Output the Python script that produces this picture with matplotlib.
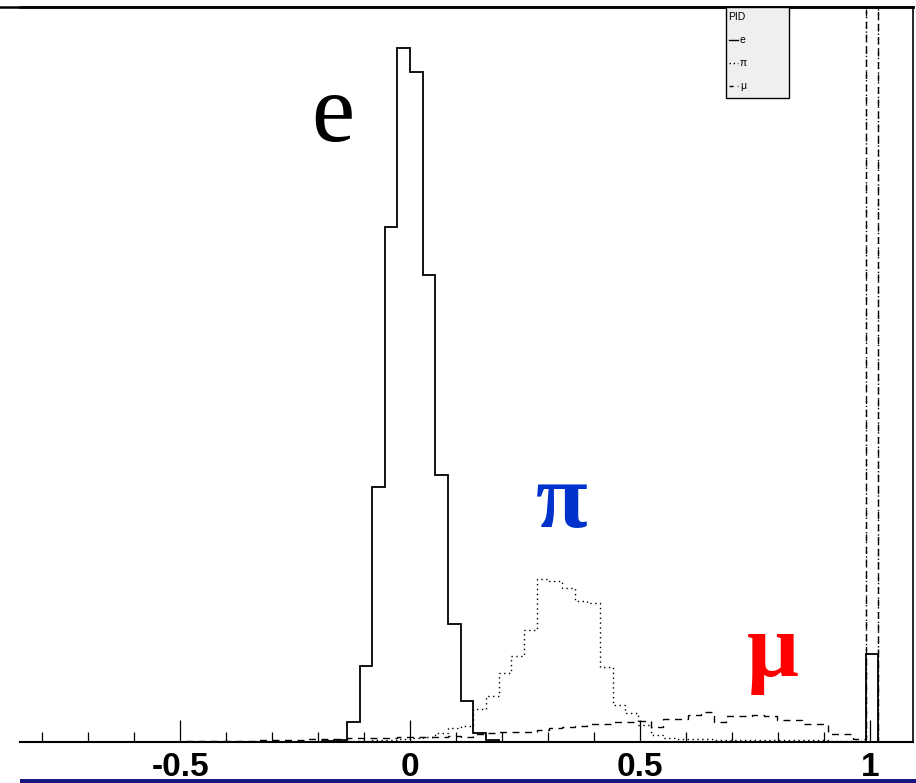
import numpy as np
import matplotlib
matplotlib.use('Agg')
import matplotlib.pyplot as plt
from matplotlib.lines import Line2D
from matplotlib.patches import Rectangle

# binning: 80 bins from -1.1 to 1.1
n_bins = 80
x_lo, x_hi = -1.1, 1.1

# counts per bin, given as (first bin index relative to x=0, values)
e_start = -7
e_counts = [1, 2, 20, 76, 255, 515, 694, 670, 467, 267, 118, 41, 9, 2]
pi_start = -6
pi_counts = [1, 1, 1, 2, 2, 3, 4, 5, 9, 14, 16, 33, 46, 69, 86, 112, 163, 161,
             154, 141, 139, 75, 37, 29, 17, 7, 4, 3, 3, 3, 2, 2, 2, 2, 2, 2,
             2, 2, 2, 1, 1, 1]
mu_start = -18
mu_counts = [1, 1, 1, 1, 1, 1, 2, 2, 2, 2, 3, 3, 3, 4, 4, 4, 4, 5, 5, 5, 5,
             6, 5, 8, 9, 10, 10, 10, 12, 14, 15, 16, 18, 18, 20, 20, 21, 15,
             23, 23, 27, 30, 20, 26, 26, 27, 26, 22, 22, 18, 18, 8, 8, 3]
# bin at x~1 (index 36)
e_spike = 88
pi_spike = 2000
mu_spike = 2000

tick_values = [-0.5, 0, 0.5, 1]
tick_labels = ['-0.5', '0', '0.5', '1']


def fill(start, counts, spike):
    h = np.zeros(n_bins)
    off = 40
    for i, c in enumerate(counts):
        h[off + start + i] = c
    h[off + 36] = spike
    return h


edges = np.linspace(x_lo, x_hi, n_bins + 1)
h_e = fill(e_start, e_counts, e_spike)
h_pi = fill(pi_start, pi_counts, pi_spike)
h_mu = fill(mu_start, mu_counts, mu_spike)

W, H = 916, 783
fig = plt.figure(figsize=(W / 100, H / 100), dpi=100)
ax = fig.add_axes([20 / W, 41 / H, 893 / W, 735 / H])

ax.stairs(h_mu, edges, color='black', lw=1.0, linestyle=(0, (5, 4)))
ax.stairs(h_pi, edges, color='black', lw=1.0, linestyle=(0, (1, 2.5)))
ax.stairs(h_e, edges, color='black', lw=1.3)

ax.set_xlim(-0.848, 1.093)
ax.set_ylim(0, 735)

ax.spines['left'].set_visible(False)
ax.spines['top'].set_linewidth(1.8)
ax.spines['right'].set_linewidth(1.2)
ax.spines['bottom'].set_linewidth(1.5)
ax.set_yticks([])

ax.set_xticks(tick_values)
ax.set_xticklabels(tick_labels)
ax.set_xticks(np.arange(-0.8, 1.05, 0.1), minor=True)
ax.tick_params(axis='x', which='major', direction='in', length=16, width=0.9,
               pad=7)
ax.tick_params(axis='x', which='minor', direction='in', length=7, width=0.9)
for lab in ax.get_xticklabels():
    lab.set_fontfamily('Liberation Sans')
    lab.set_fontweight('bold')
    lab.set_fontsize(24)

# particle labels
ax.text(-0.169, 624, 'e', fontsize=70, family='Liberation Serif',
        ha='center', va='center', color='black')
ax.text(0.329, 238, 'π', fontsize=68, family='Liberation Serif',
        fontweight='bold', ha='center', va='center', color='#0033cc')
ax.text(0.789, 88, 'μ', fontsize=66, family='Liberation Serif',
        fontweight='bold', ha='center', va='center', color='#ff0000')

# top frame line reaching the left edge
fig.add_artist(Line2D([0, 913 / W], [1 - 7 / H, 1 - 7 / H], color='black',
                      lw=1.8, transform=fig.transFigure))

# legend box
fig.add_artist(Rectangle((726 / W, 1 - 98 / H), 63 / W, 91 / H,
                         transform=fig.transFigure, facecolor='#efefef',
                         edgecolor='black', lw=1.0, zorder=5))
fig.text(728 / W, 1 - 17 / H, 'PID', fontsize=7.5, family='Liberation Sans',
         va='center', zorder=6)
leg_rows = [('e', '-', 40), ('π', (0, (1, 2)), 63), ('μ', (0, (3, 3)), 86)]
for name, ls, yy in leg_rows:
    fig.add_artist(Line2D([729 / W, 738 / W], [1 - yy / H, 1 - yy / H],
                          color='black', lw=1.0, linestyle=ls,
                          transform=fig.transFigure, zorder=6))
    fig.text(740 / W, 1 - yy / H, name, fontsize=7.5, family='Liberation Sans',
             va='center', zorder=6)

# blue bar at the bottom
fig.add_artist(Rectangle((20 / W, 0), 1 - 20 / W, 4 / H,
                         transform=fig.transFigure, facecolor='#16167f',
                         edgecolor='none'))

fig.savefig('out.png', dpi=100)
